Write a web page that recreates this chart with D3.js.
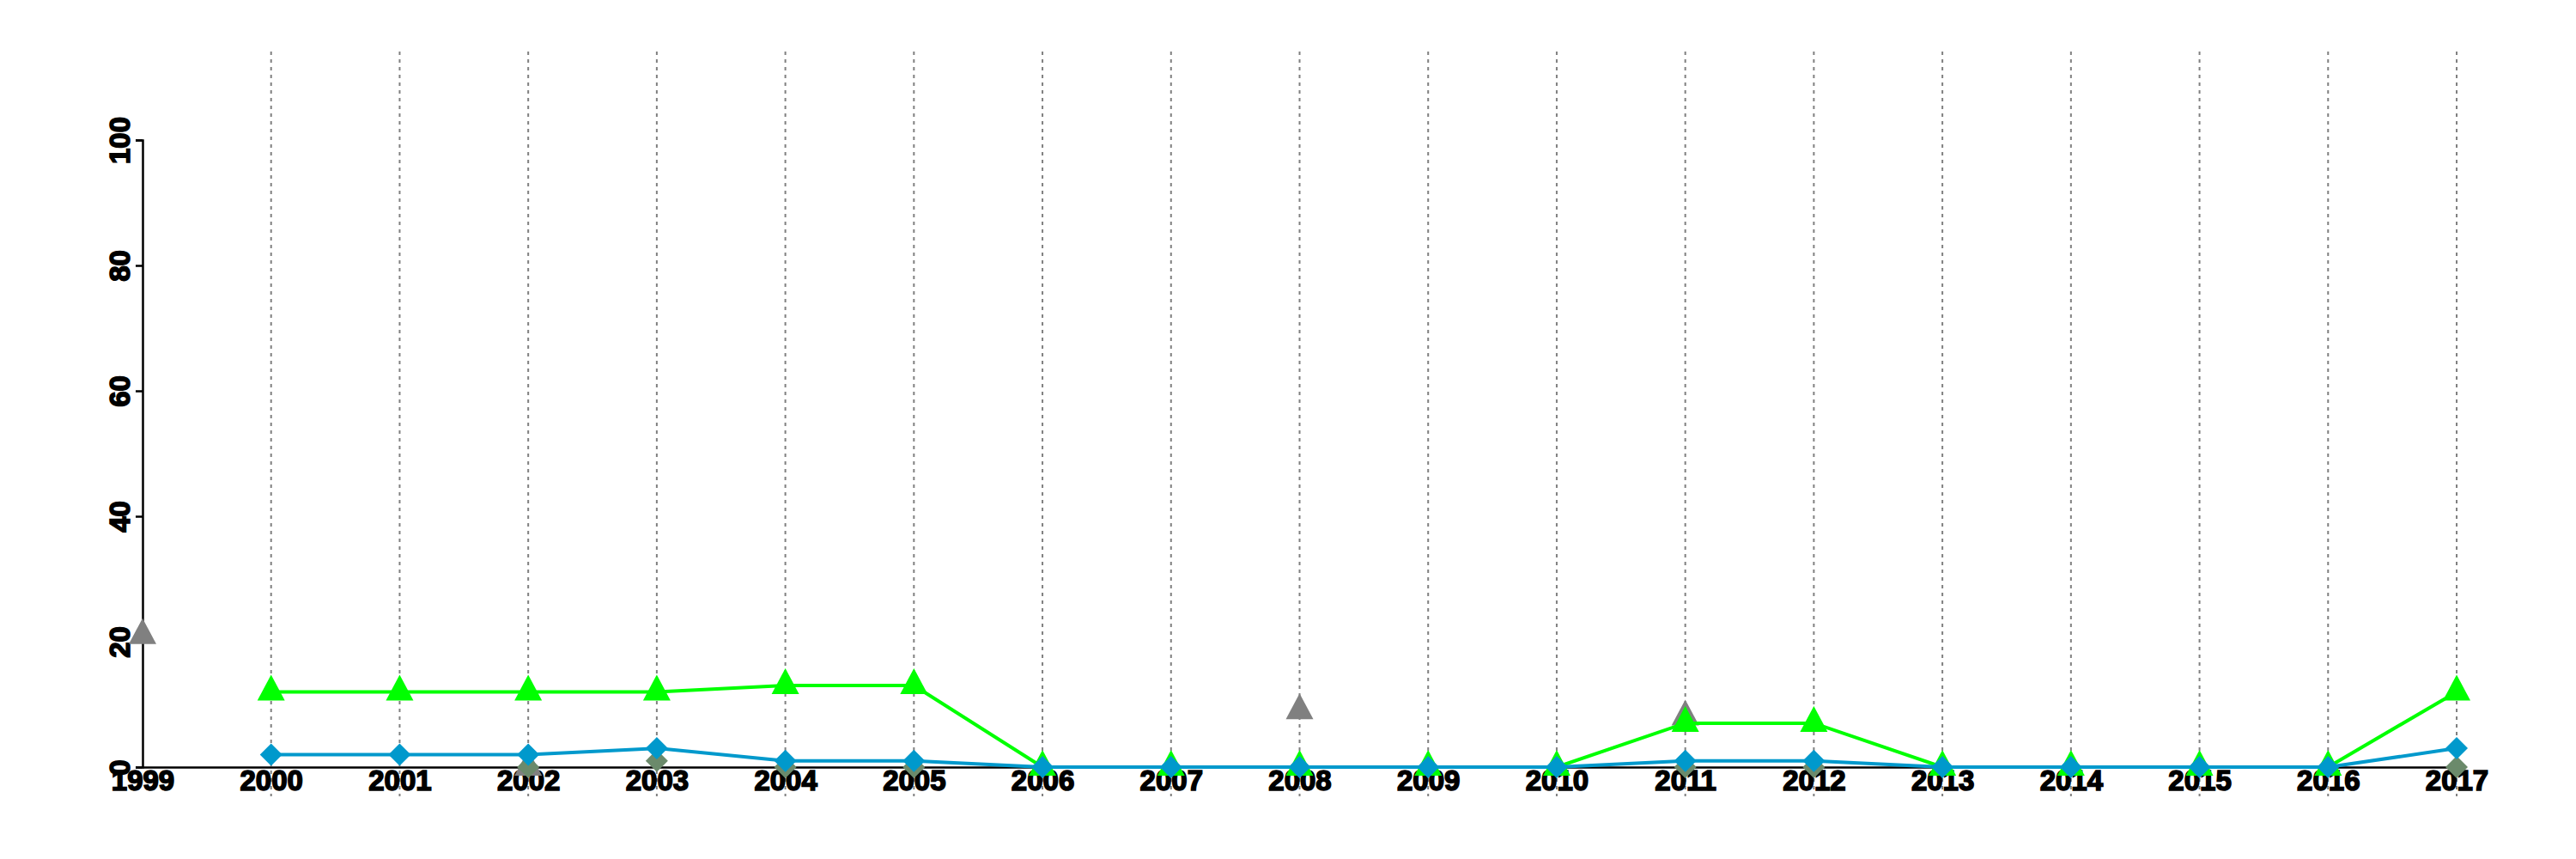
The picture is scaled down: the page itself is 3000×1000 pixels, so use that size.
<!DOCTYPE html>
<html>
<head>
<meta charset="utf-8">
<script src="https://cdn.jsdelivr.net/npm/d3@7"></script>
<style>
  html, body { margin: 0; padding: 0; background: #ffffff; }
  svg { display: block; }
  text { font-family: "Liberation Sans", Arial, Helvetica, sans-serif; font-weight: bold; }
</style>
</head>
<body>
<script>
// ---- data ----
const years = [1999, 2000, 2001, 2002, 2003, 2004, 2005, 2006, 2007, 2008, 2009, 2010, 2011, 2012, 2013, 2014, 2015, 2016, 2017];
const greenValues = [null, 12, 12, 12, 12, 13, 13, 0, 0, 0, 0, 0, 7, 7, 0, 0, 0, 0, 12];
const blueValues  = [null, 2, 2, 2, 3, 1, 1, 0, 0, 0, 0, 0, 1, 1, 0, 0, 0, 0, 3];
const grayValues  = [21, null, null, 0, null, null, null, null, null, 9, null, null, 8, null, null, null, null, null, null];
const darkValues  = [null, null, null, 0, 1, 0, 0, null, null, null, null, null, 0, 0, null, null, null, null, 0];
const yTicks = [0, 20, 40, 60, 80, 100];
const gridYears = [2000, 2001, 2002, 2003, 2004, 2005, 2006, 2007, 2008, 2009, 2010, 2011, 2012, 2013, 2014, 2015, 2016, 2017];

(function () {
// ---- layout ----
const W = 3000, H = 1000;
const mLeft = 166, mRight = 2861, mTop = 163, mBottom = 893;

const svg = d3.select("body").append("svg").attr("width", W).attr("height", H);
svg.append("rect").attr("width", W).attr("height", H).attr("fill", "#fff");

const x = d3.scaleLinear().domain([1999, 2017]).range([mLeft, mRight]);
const y = d3.scaleLinear().domain([0, 100]).range([mBottom, mTop]);

// grid
svg.append("g").selectAll("line").data(gridYears).join("line")
  .attr("x1", d => x(d)).attr("x2", d => x(d))
  .attr("y1", 60).attr("y2", 927)
  .attr("stroke", "#808080").attr("stroke-width", 2)
  .attr("stroke-dasharray", "4,5");

// y axis
const yAxis = svg.append("g").attr("transform", `translate(${mLeft},0)`)
  .call(d3.axisLeft(y).tickValues(yTicks).tickSize(8).tickSizeOuter(8));
yAxis.select(".domain").attr("stroke", "#000").attr("stroke-width", 2.5);
yAxis.selectAll(".tick line").attr("stroke", "#000").attr("stroke-width", 2.5);
yAxis.selectAll("text")
  .attr("x", null).attr("dy", null).attr("y", null)
  .attr("text-anchor", "middle")
  .attr("transform", "translate(-15,0) rotate(-90)")
  .attr("fill", "#000").attr("stroke", "#000").attr("stroke-width", 1.6)
  .style("font-size", "33px");

// x axis
const xAxis = svg.append("g").attr("transform", `translate(0,${mBottom})`)
  .call(d3.axisBottom(x).tickValues(years).tickFormat(d3.format("d")).tickSize(0).tickSizeOuter(0));
xAxis.select(".domain").attr("stroke", "#000").attr("stroke-width", 2.5);
xAxis.selectAll("text")
  .attr("y", 27).attr("dy", null)
  .attr("fill", "#000").attr("stroke", "#000").attr("stroke-width", 1.6)
  .style("font-size", "33px");

const tri = "M0,-20L16,10L-16,10Z";
const dia = "M0,-13L13,0L0,13L-13,0Z";

function pts(vals) {
  return years.map((yr, i) => ({ yr, v: vals[i] })).filter(d => d.v != null);
}

// gray triangles (markers only)
svg.append("g").selectAll("path").data(pts(grayValues)).join("path")
  .attr("d", tri).attr("fill", "#808080")
  .attr("transform", d => `translate(${x(d.yr)},${y(d.v)})`);

// dark diamonds (markers only)
svg.append("g").selectAll("path").data(pts(darkValues)).join("path")
  .attr("d", dia).attr("fill", "#6b8a6b")
  .attr("transform", d => `translate(${x(d.yr)},${y(d.v)})`);

const line = d3.line().defined(d => d.v != null).x(d => x(d.yr)).y(d => y(d.v));

// green series
svg.append("path").datum(years.map((yr, i) => ({ yr, v: greenValues[i] })))
  .attr("d", line).attr("fill", "none").attr("stroke", "#00ff00").attr("stroke-width", 4);
svg.append("g").selectAll("path").data(pts(greenValues)).join("path")
  .attr("d", tri).attr("fill", "#00ff00")
  .attr("transform", d => `translate(${x(d.yr)},${y(d.v)})`);

// blue series
svg.append("path").datum(years.map((yr, i) => ({ yr, v: blueValues[i] })))
  .attr("d", line).attr("fill", "none").attr("stroke", "#0099cc").attr("stroke-width", 4);
svg.append("g").selectAll("path").data(pts(blueValues)).join("path")
  .attr("d", dia).attr("fill", "#0099cc")
  .attr("transform", d => `translate(${x(d.yr)},${y(d.v)})`);
})();
</script>
</body>
</html>
